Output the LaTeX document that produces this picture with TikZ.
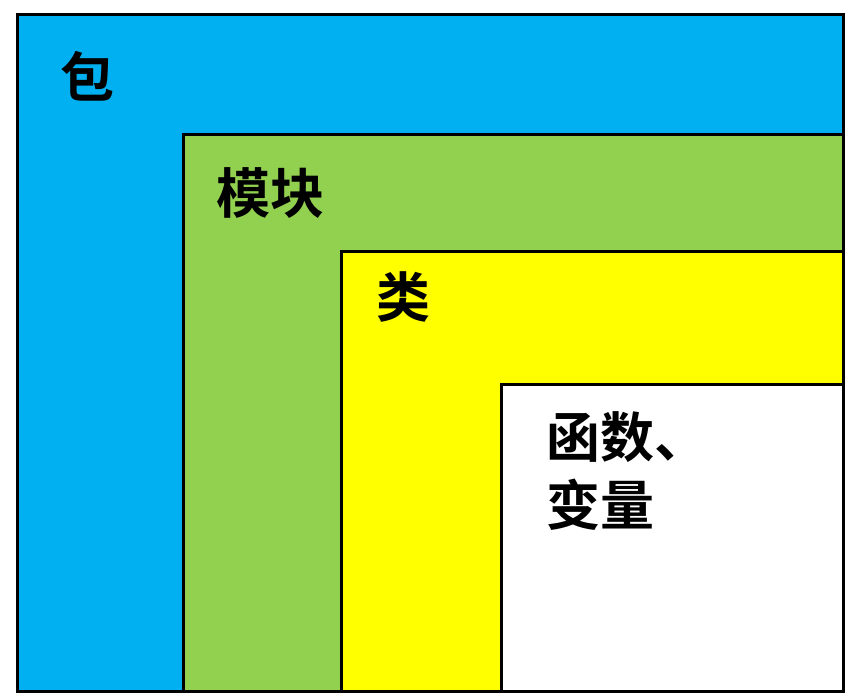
\documentclass[tikz,border=0pt]{standalone}
\usepackage{fontspec}
\newfontfamily\cjk{Noto Sans CJK SC Bold}
\definecolor{pkgblue}{HTML}{00B0F0}
\definecolor{modgreen}{HTML}{92D050}
\definecolor{clsyellow}{HTML}{FFFF00}
\begin{document}
\begin{tikzpicture}[x=1pt,y=-1pt,
  box/.style={draw=black,line width=3pt},
  lbl/.style={inner sep=0pt,anchor=west,font=\cjk\fontsize{54}{68}\selectfont,align=left}]
\useasboundingbox (0,0) rectangle (856,700);
\fill[pkgblue] (17.5,14.5) rectangle (843.5,691.5);
\draw[box,fill=modgreen] (183.5,134.5) rectangle (843.5,691.5);
\draw[box,fill=clsyellow] (341.5,251.5) rectangle (843.5,691.5);
\draw[box,fill=white] (501.5,384.5) rectangle (843.5,691.5);
\draw[box] (17.5,14.5) rectangle (843.5,691.5);
\node[lbl] (pkg) at (60,76) {包};
\node[lbl] (mod) at (216,193) {模块};
\node[lbl] (cls) at (376,297) {类};
\node[lbl] (fun) at (546,471) {函数、\\变量};
\end{tikzpicture}
\end{document}
